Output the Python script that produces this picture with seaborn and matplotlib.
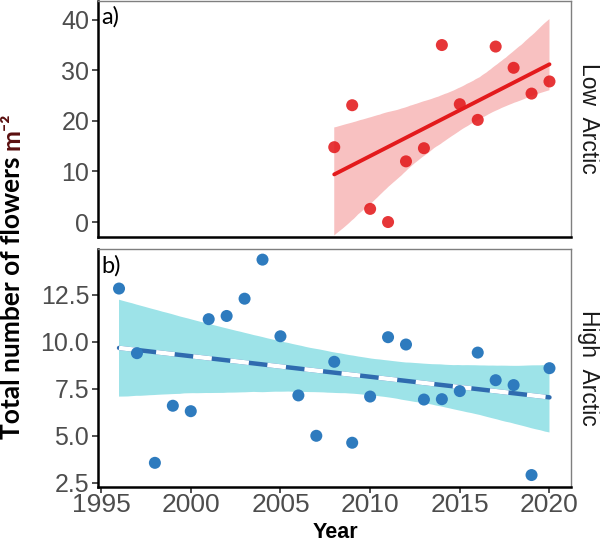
import matplotlib
matplotlib.use("Agg")
import matplotlib.pyplot as plt
import seaborn as sns
import pandas as pd
import numpy as np

# ---- data ----
years_low = [2008, 2009, 2010, 2011, 2012, 2013, 2014, 2015, 2016, 2017, 2018, 2019, 2020]
flowers_low = [14.8, 23.1, 2.6, 0.0, 12.0, 14.6, 35.0, 23.3, 20.2, 34.7, 30.5, 25.4, 27.8]

years_high = [1996, 1997, 1998, 1999, 2000, 2001, 2002, 2003, 2004, 2005, 2006, 2007,
              2008, 2009, 2010, 2011, 2012, 2013, 2014, 2015, 2016, 2017, 2018, 2019, 2020]
flowers_high = [12.84, 9.40, 3.56, 6.60, 6.31, 11.21, 11.38, 12.30, 14.38, 10.30, 7.15, 5.00,
                8.94, 4.63, 7.09, 10.25, 9.86, 6.93, 6.95, 7.38, 9.43, 7.96, 7.70, 2.91, 8.60]

panel_labels = ["a)", "b)"]
strip_labels = ["Low  Arctic", "High  Arctic"]
x_ticks = [1995, 2000, 2005, 2010, 2015, 2020]
y_ticks_low = [0, 10, 20, 30, 40]
y_ticks_high = [2.5, 5.0, 7.5, 10.0, 12.5]

df_low = pd.DataFrame({"Year": years_low, "Flowers": flowers_low})
df_high = pd.DataFrame({"Year": years_high, "Flowers": flowers_high})

sns.set_theme(style="white")
plt.rcParams["font.family"] = ["Liberation Sans", "DejaVu Sans"]

W, H = 600, 543
fig = plt.figure(figsize=(6, 5.43), dpi=100)
L, R = 97.5 / W, 571 / W
ax1 = fig.add_axes([L, 1 - 237 / H, R - L, 237 / H - 0.001])
ax2 = fig.add_axes([L, 1 - 486.5 / H, R - L, (486.5 - 249.3) / H])

RED = "#E31A1C"
BLUE = "#2E7BBE"

# ---- top panel ----
sns.regplot(data=df_low, x="Year", y="Flowers", ax=ax1, scatter=False, ci=95,
            n_boot=4000, seed=7, color=RED, truncate=True,
            line_kws=dict(linewidth=2.8, color=RED, zorder=3))
for c in ax1.collections:
    c.set_facecolor("#F8C1C1")
    c.set_alpha(1)
    c.set_edgecolor("none")
    c.set_zorder(1)
sns.scatterplot(data=df_low, x="Year", y="Flowers", ax=ax1, color=RED, s=75,
                alpha=0.88, edgecolor="none", zorder=4)

# ---- bottom panel ----
sns.regplot(data=df_high, x="Year", y="Flowers", ax=ax2, scatter=False, ci=95,
            n_boot=4000, seed=7, color=BLUE, truncate=True,
            line_kws=dict(linewidth=3.2, color="#2F6BAF", zorder=3))
for c in ax2.collections:
    c.set_facecolor("#9DE3E8")
    c.set_alpha(1)
    c.set_edgecolor("none")
    c.set_zorder(1)
fit_line = ax2.lines[0]
ax2.plot(fit_line.get_xdata(), fit_line.get_ydata(), color="white", linewidth=3.2,
         dashes=(4.2, 4.2), zorder=3.5)
sns.scatterplot(data=df_high, x="Year", y="Flowers", ax=ax2, color=BLUE, s=75,
                alpha=1, edgecolor="none", zorder=4)

for ax, yt, lbl, strip in [(ax1, y_ticks_low, panel_labels[0], strip_labels[0]),
                           (ax2, y_ticks_high, panel_labels[1], strip_labels[1])]:
    ax.set_xlim(1994.8, 2021.2)
    ax.set_yticks(yt)
    ax.set_xlabel("")
    ax.set_ylabel("")
    for side in ["left", "bottom"]:
        ax.spines[side].set_color("black")
        ax.spines[side].set_linewidth(1.8)
    for side in ["top", "right"]:
        ax.spines[side].set_color("#7F7F7F")
        ax.spines[side].set_linewidth(1.0)
    ax.tick_params(axis="both", which="both", length=4, width=1.2, color="#333333",
                   labelsize=18, labelcolor="#4D4D4D", pad=2, left=True, bottom=True)
    ax.text(0.008, 0.975, lbl, transform=ax.transAxes, ha="left", va="top",
            fontsize=17, color="black", family=["Lato", "DejaVu Sans"])
    ax.text(1.037, 0.5, strip, transform=ax.transAxes, rotation=270, ha="center",
            va="center", fontsize=16.5, color="#1A1A1A")

ax1.set_ylim(-2.96, 43.8)
ax2.set_ylim(2.30, 14.93)
ax1.set_xticks(x_ticks)
ax1.tick_params(axis="x", bottom=False, labelbottom=False)
ax2.set_xticks(x_ticks)
ax2.set_yticklabels([f"{v:.1f}" for v in y_ticks_high])
ax2.tick_params(axis="x", labelsize=19, pad=1)

fig.text(335 / W, 1 - 533 / H, "Year", ha="center", va="center", fontsize=15.5,
         fontweight="bold", color="black")

t1 = fig.text(12 / W, 1 - 298 / H, "Total number of flowers", rotation=90,
              ha="center", va="center", fontsize=19, fontweight="bold",
              color="black", family=["Lato", "DejaVu Sans"])
ax1.annotate("m\u207b\u00b2", xy=(0.5, 1), xycoords=t1, xytext=(0, 5),
             textcoords="offset points", rotation=90, ha="center", va="bottom",
             fontsize=18, fontweight="bold", color="#5A0E0E",
             family=["Lato", "DejaVu Sans"], annotation_clip=False)

fig.savefig("out.png", dpi=100)
